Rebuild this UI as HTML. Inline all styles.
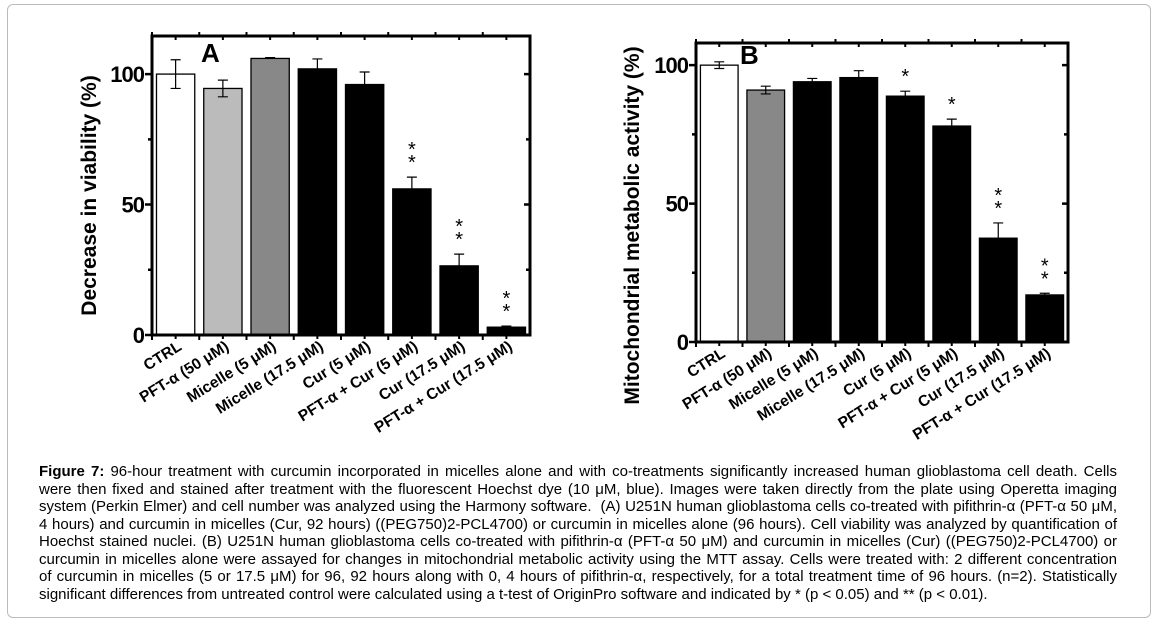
<!DOCTYPE html>
<html><head><meta charset="utf-8"><style>
body{margin:0;background:#fff;width:1159px;height:624px;overflow:hidden;font-family:"Liberation Sans",Arial,sans-serif}
#frame{position:absolute;left:7px;top:4px;width:1142px;height:612px;border:1px solid #bbb;border-radius:6px}
#cap{position:absolute;left:39px;top:463px;width:1078px;font-size:15px;line-height:17.5px;color:#000}
#cap div{text-align:justify;text-align-last:justify;white-space:nowrap}
#cap div.last{text-align-last:left}
svg{position:absolute;left:0;top:0}
</style></head><body>
<div id="frame"></div>
<svg id="chart" width="1159" height="624"></svg>
<div id="cap">
<div><b>Figure 7:</b> 96-hour treatment with curcumin incorporated in micelles alone and with co-treatments significantly increased human glioblastoma cell death. Cells</div>
<div>were then fixed and stained after treatment with the fluorescent Hoechst dye (10 μM, blue). Images were taken directly from the plate using Operetta imaging</div>
<div>system (Perkin Elmer) and cell number was analyzed using the Harmony software.&nbsp; (A) U251N human glioblastoma cells co-treated with pifithrin-α (PFT-α 50 μM,</div>
<div>4 hours) and curcumin in micelles (Cur, 92 hours) ((PEG750)2-PCL4700) or curcumin in micelles alone (96 hours). Cell viability was analyzed by quantification of</div>
<div>Hoechst stained nuclei. (B) U251N human glioblastoma cells co-treated with pifithrin-α (PFT-α 50 μM) and curcumin in micelles (Cur) ((PEG750)2-PCL4700) or</div>
<div>curcumin in micelles alone were assayed for changes in mitochondrial metabolic activity using the MTT assay. Cells were treated with: 2 different concentration</div>
<div>of curcumin in micelles (5 or 17.5 μM) for 96, 92 hours along with 0, 4 hours of pifithrin-α, respectively, for a total treatment time of 96 hours. (n=2). Statistically</div>
<div class="last">significant differences from untreated control were calculated using a t-test of OriginPro software and indicated by * (p &lt; 0.05) and ** (p &lt; 0.01).</div>
</div>
<script>
const categories=["CTRL","PFT-α (50 μM)","Micelle (5 μM)","Micelle (17.5 μM)","Cur (5 μM)","PFT-α + Cur (5 μM)","Cur (17.5 μM)","PFT-α + Cur (17.5 μM)"];
const valuesA=[100,94.5,106,102,96,56,26.5,3];
const errorsA=[5.5,3.2,0.3,3.8,4.8,4.5,4.5,0.4];
const starsA=["","","","","","**","**","**"];
const valuesB=[100,91,94,95.5,88.8,78,37.5,17];
const errorsB=[1.2,1.4,1.2,2.5,1.8,2.5,5.5,0.6];
const starsB=["","","","","*","*","**","**"];
const colorsA=["#fff","#bbb","#888","#000","#000","#000","#000","#000"];
const colorsB=["#fff","#888","#000","#000","#000","#000","#000","#000"];
const yTicks=[0,50,100];
const NS="http://www.w3.org/2000/svg";
const svg=document.getElementById('chart');
function mk(tag,attrs,parent,txt){const e=document.createElementNS(NS,tag);for(const k in attrs)e.setAttribute(k,attrs[k]);if(txt!==undefined)e.textContent=txt;(parent||svg).appendChild(e);return e;}
function panel(o){
  const g=mk('g',{});
  
  
  const y=v=>o.bottom-(v/o.ymax)*(o.bottom-o.top);
  const step=(o.right-o.left)/categories.length;
  const bw=step*0.81;
  const x=i=>o.left+step*(i+0.5);
  categories.forEach((c,i)=>{
    const v=o.values[i],e=o.errors[i];
    const r=mk('rect',{x:x(i)-bw/2,y:y(v),width:bw,height:o.bottom-y(v),fill:o.colors[i],stroke:'#000','stroke-width':1.3},g);
    
    
    const eb=mk('path',{d:`M${x(i)},${y(v)} V${y(v+e)} M${x(i)-5},${y(v+e)} H${x(i)+5}`+(i<2&&o.twoSided?` M${x(i)},${y(v)} V${y(v-e)} M${x(i)-5},${y(v-e)} H${x(i)+5}`:''),stroke:'#000','stroke-width':1.2,fill:'none'},g);
    
    
    const s=o.stars[i];
    for(let k=0;k<s.length;k++){
      const t=mk('text',{x:x(i),y:y(v+e)-8-k*13,'text-anchor':'middle','font-size':20,'font-family':'Liberation Sans, sans-serif'},g,'*');
      
      
    }
    const lx=x(i)+7,ly=o.bottom+14;
    const lab=mk('text',{x:lx,y:ly,'text-anchor':'end','font-size':15.5,'font-weight':'bold',transform:`rotate(-32 ${lx} ${ly})`,'font-family':'Liberation Sans, sans-serif'},g,c);
    
    
    mk('path',{d:`M${o.left+step*i},${o.bottom} v5 M${x(i)},${o.bottom} v4 M${o.left+step*i},${o.top} v-4 M${x(i)},${o.top} v4`,stroke:'#000','stroke-width':2},g);
  });
  const fr=mk('rect',{x:o.left,y:o.top,width:o.right-o.left,height:o.bottom-o.top,fill:'none',stroke:'#000','stroke-width':3},g);
  
  
  [0,25,50,75,100].forEach(v=>{
    mk('path',{d:`M${o.left},${y(v)} h-${v%50?4:7} M${o.right},${y(v)} h-${v%50?4:6}`,stroke:'#000','stroke-width':2.5},g);
  });
  yTicks.forEach(v=>{
    const t=mk('text',{x:o.left-8,y:y(v)+8,'text-anchor':'end','font-size':22,'font-weight':'bold','letter-spacing':'-1','font-family':'Liberation Sans, sans-serif'},g,v);
    
    
  });
  const cy=(o.top+o.bottom)/2+o.titleDy;
  const yt=mk('text',{x:o.titleX,y:cy,'text-anchor':'middle','font-size':21,'font-weight':'bold',transform:`rotate(-90 ${o.titleX} ${cy})`,'font-family':'Liberation Sans, sans-serif'},g,o.title);
  
  
  const pl=mk('text',{x:o.letterX,y:o.letterY,'font-size':26,'font-weight':'bold','font-family':'Liberation Sans, sans-serif'},g,o.letter);
  
  
}
panel({name:'panel-a-chart',left:152,right:530,top:36,bottom:335,ymax:114.6,values:valuesA,errors:errorsA,stars:starsA,colors:colorsA,twoSided:true,title:'Decrease in viability (%)',titleX:96,titleDy:10,letter:'A',letterX:201,letterY:62});
panel({name:'panel-b-chart',left:696,right:1068,top:43,bottom:342,ymax:108,values:valuesB,errors:errorsB,stars:starsB,colors:colorsB,twoSided:true,title:'Mitochondrial metabolic activity (%)',titleX:639,titleDy:33,letter:'B',letterX:740,letterY:64});
</script>
</body></html>
